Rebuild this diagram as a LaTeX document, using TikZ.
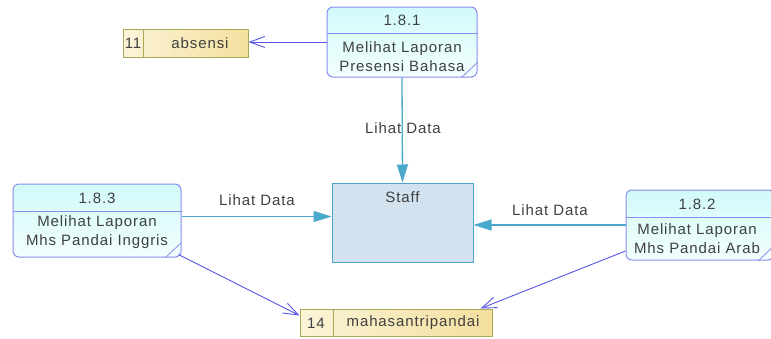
\documentclass[tikz,border=0pt]{standalone}
\usepackage{fontspec}
\setmainfont{Liberation Sans}[LetterSpace=6]
\usetikzlibrary{arrows.meta,calc}
\definecolor{procborder}{HTML}{8C8CF0}
\definecolor{proctop}{HTML}{D2FAFA}
\definecolor{procbot}{HTML}{F2FFFD}
\definecolor{txt}{HTML}{404040}
\definecolor{flowblue}{HTML}{5555E8}
\definecolor{flowteal}{HTML}{4AA8CC}
\definecolor{storeborder}{HTML}{A8A858}
\definecolor{storeleft}{HTML}{FBF4D8}
\definecolor{storeright}{HTML}{F4DF9E}
\definecolor{extfill}{HTML}{D2E2EE}
\definecolor{extborder}{HTML}{4AA3C8}
\begin{document}
\begin{tikzpicture}[x=1pt,y=-1pt,
  font=\fontsize{15}{19}\selectfont,
  process/.style={draw=procborder, line width=1pt, rounded corners=6pt,
    top color=proctop, bottom color=procbot, inner sep=0pt},
  store/.style={draw=storeborder, line width=1pt, left color=storeleft,
    right color=storeright, inner sep=0pt},
  entity/.style={draw=extborder, line width=1pt, fill=extfill, inner sep=0pt},
  txtnode/.style={text=txt, inner sep=0pt, align=center},
  blueflow/.style={draw=flowblue, line width=0.9pt,
    -{Straight Barb[length=15pt,width=11pt,line width=0.9pt]}},
  tealflow/.style={draw=flowteal, line width=1.3pt,
    -{Triangle[length=18pt,width=11pt]}}
]
\useasboundingbox (0,0) rectangle (771,338);
\fill[white] (0,0) rectangle (771,338);

% ---- process 1.8.1
\node[process, minimum width=150pt, minimum height=70pt] (p181) at (402,42) {};
\draw[procborder, line width=1pt] (p181.west |- 0,33) -- (p181.east |- 0,33);
\draw[procborder, line width=0.8pt] ($(p181.south east)+(0,-15)$) -- ($(p181.south east)+(-16,0)$);
\node[txtnode] (h181) at (402,20) {1.8.1};
\node[txtnode] (b181) at (402,56.5) {Melihat Laporan\\Presensi Bahasa};

% ---- process 1.8.3
\node[process, minimum width=168pt, minimum height=73pt] (p183) at (97,220.5) {};
\draw[procborder, line width=1pt] (p183.west |- 0,211) -- (p183.east |- 0,211);
\draw[procborder, line width=0.8pt] ($(p183.south east)+(0,-15)$) -- ($(p183.south east)+(-16,0)$);
\node[txtnode] (h183) at (97,198) {1.8.3};
\node[txtnode] (b183) at (97,232.5) {Melihat Laporan\\Mhs Pandai Inggris};

% ---- process 1.8.2
\node[process, minimum width=148pt, minimum height=70pt] (p182) at (700,225) {};
\draw[procborder, line width=1pt] (p182.west |- 0,217) -- (p182.east |- 0,217);
\draw[procborder, line width=0.8pt] ($(p182.south east)+(0,-15)$) -- ($(p182.south east)+(-16,0)$);
\node[txtnode] (h182) at (697,204) {1.8.2};
\node[txtnode] (b182) at (697,238.5) {Melihat Laporan\\Mhs Pandai Arab};

% ---- external entity Staff
\node[entity, minimum width=141pt, minimum height=79pt] (staff) at (402.5,222.5) {};
\node[txtnode] (tstaff) at (402.5,197) {Staff};

% ---- data store 11 absensi
\node[store, minimum width=125pt, minimum height=28pt] (s11) at (185.5,43) {};
\draw[storeborder, line width=1pt] (143,29) -- (143,57);
\node[txtnode] (n11) at (133,43) {11};
\node[txtnode] (t11) at (200,43) {absensi};

% ---- data store 14 mahasantripandai
\node[store, minimum width=192pt, minimum height=27pt] (s14) at (396,322.5) {};
\draw[storeborder, line width=1pt] (333,309) -- (333,336);
\node[txtnode] (n14) at (316,323) {14};
\node[txtnode] (t14) at (413,323) {mahasantripandai};

% ---- flows
\draw[blueflow] (p181.west) -- (s11.east |- p181.west);
\draw[tealflow] (p181.south) -- (staff.north);
\node[txtnode] (l1) at (403,128) {Lihat Data};
\draw[tealflow] ([yshift=4pt]p183.east) -- ([yshift=4pt]p183.east -| staff.west);
\node[txtnode] (l2) at (257,200) {Lihat Data};
\draw[tealflow] (p182.west) -- (p182.west -| staff.east);
\node[txtnode] (l3) at (550,210) {Lihat Data};
\draw[blueflow] ($(p183.south east)+(-3,-3)$) -- ([yshift=7pt]s14.west);
\draw[blueflow] ([yshift=-26pt]p182.west) -- ([xshift=-12pt]s14.north east);
\end{tikzpicture}
\end{document}
